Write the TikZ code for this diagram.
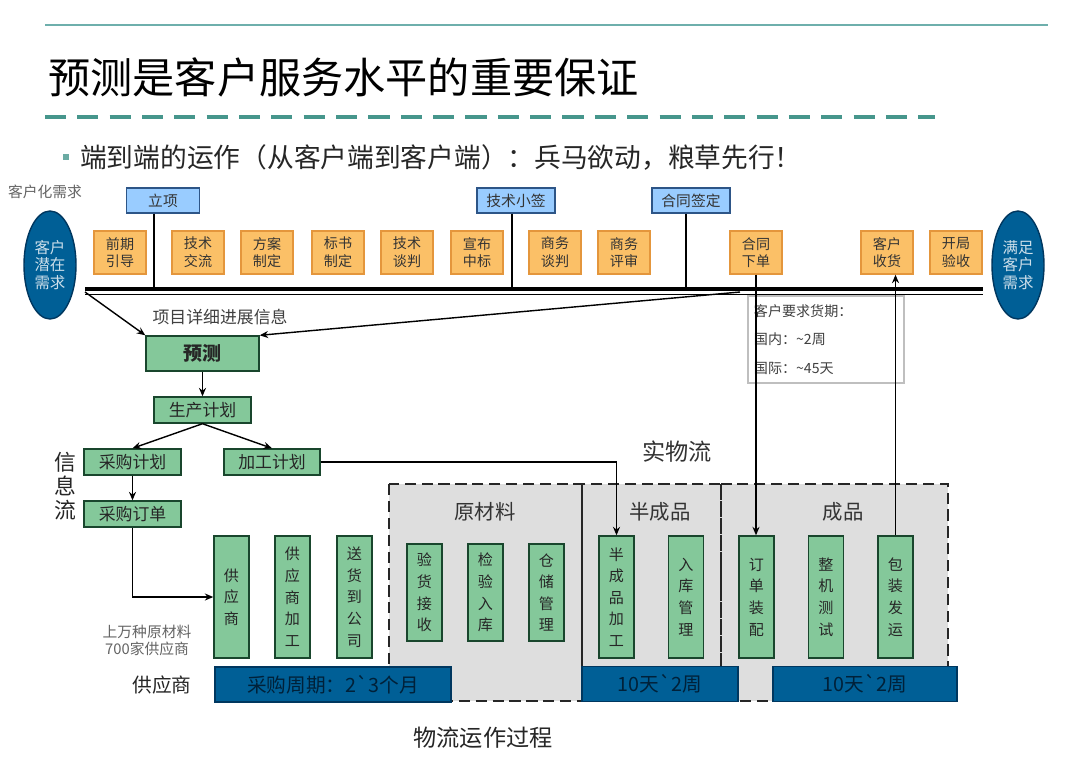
\documentclass[tikz,border=0pt]{standalone}
\usepackage{fontspec}
\setmainfont{Noto Sans CJK SC}
\usetikzlibrary{shapes.geometric,arrows.meta,calc}
\definecolor{tealline}{RGB}{110,175,172}
\definecolor{tealdash}{RGB}{70,150,140}
\definecolor{planblue}{RGB}{153,204,255}
\definecolor{planedge}{RGB}{45,85,135}
\definecolor{stagefill}{RGB}{251,192,103}
\definecolor{stageedge}{RGB}{228,150,60}
\definecolor{deepblue}{RGB}{0,95,150}
\definecolor{deepedge}{RGB}{0,55,95}
\definecolor{boxgreen}{RGB}{132,200,154}
\definecolor{greenedge}{RGB}{25,70,45}
\definecolor{zone}{RGB}{222,222,222}
\definecolor{txtgray}{RGB}{100,100,100}

\begin{document}
\begin{tikzpicture}[x=0.025cm, y=-0.025cm, >={Stealth[length=6pt,width=5pt]},
  plan/.style={draw=planedge, line width=1pt, fill=planblue, minimum width=1.95cm, minimum height=0.625cm, inner sep=1pt, font=\fontsize{10.5}{12}\selectfont, text=black!80},
  stage/.style={draw=stageedge, line width=1pt, fill=stagefill, minimum width=1.3cm, minimum height=1.075cm, inner sep=1pt, align=center, font=\fontsize{10}{12.6}\selectfont, text=black!80},
  goal/.style={ellipse, draw=deepedge, line width=1pt, fill=deepblue, minimum width=1.3cm, minimum height=2.7cm, inner sep=0pt, align=center, text=white!80!deepblue, font=\fontsize{11}{12.5}\selectfont},
  info/.style={draw=greenedge, line width=1pt, fill=boxgreen, minimum width=2.425cm, minimum height=0.65cm, inner sep=1pt, font=\fontsize{12}{14}\selectfont, text=black!85},
  proc/.style={draw=greenedge, line width=1pt, fill=boxgreen, minimum width=0.875cm, minimum height=3.05cm, inner sep=0pt, align=center, font=\fontsize{10.7}{15.4}\selectfont, text=black!85},
  bar/.style={draw=deepedge, line width=1pt, fill=deepblue, minimum height=0.875cm, inner sep=0pt, font=\fontsize{14}{16}\selectfont, text=deepedge!60!black},
  zonebox/.style={draw=black!85, line width=2pt, dash pattern=on 8pt off 4pt},
  flow/.style={line width=1pt, ->}
]
  \path[use as bounding box, fill=white] (0,0) rectangle (1080,758);

  % header
  \draw[tealline, line width=1pt] (45,25) -- (1048,25);
  \node[anchor=west, inner sep=0pt, font=\fontsize{30}{32}\selectfont] (title) at (48,77) {预测是客户服务水平的重要保证};
  \draw[tealdash, line width=2.8pt, dash pattern=on 15pt off 8pt] (45,117) -- (935,117);
  \node[fill=tealdash!80!white, minimum size=4pt, inner sep=0pt] (dot) at (66,157) {};
  \node[anchor=west, inner sep=0pt, font=\fontsize{19}{21}\selectfont, text=black!85] (sub) at (80,157) {端到端的运作（从客户端到客户端）：兵马欲动，粮草先行！};
  \node[font=\fontsize{10.5}{12}\selectfont, text=txtgray] (cust) at (45,192) {客户化需求};

  % milestones
  \node[plan, minimum width=1.83cm] (lixiang) at (163,200.5) {立项};
  \node[plan] (jsxq) at (516,200.5) {技术小签};
  \node[plan] (htqd) at (691,200.5) {合同签定};

  % stages
  \node[stage] (qqyd) at (120,252.5) {前期\\引导};
  \node[stage] (jsjl) at (198,252.5) {技术\\交流};
  \node[stage] (fazd) at (267,252.5) {方案\\制定};
  \node[stage] (bszd) at (338,252.5) {标书\\制定};
  \node[stage] (jstp) at (407,252.5) {技术\\谈判};
  \node[stage] (xbzb) at (477,252.5) {宣布\\中标};
  \node[stage] (swtp) at (555,252.5) {商务\\谈判};
  \node[stage] (swps) at (624,252.5) {商务\\评审};
  \node[stage] (htxd) at (756,252.5) {合同\\下单};
  \node[stage] (khsh) at (887,252.5) {客户\\收货};
  \node[stage] (kjys) at (956,252.5) {开局\\验收};

  \node[goal] (need) at (50,265) {客户\\潜在\\需求};
  \node[goal] (meet) at (1018,265) {满足\\客户\\需求};

  % timeline
  \coordinate (tlL) at (85,289);
  \coordinate (tlR) at (983,289);
  \draw[line width=2.6pt] (tlL) -- (tlR);
  \draw[line width=1pt] (85,294.5) -- (983,294.5);
  \draw[line width=1pt] ($(lixiang.south)+(-9,0)$) coordinate (a) -- (a |- tlL);
  \draw[line width=1pt] ($(jsxq.south)+(-4,0)$) coordinate (b) -- (b |- tlL);
  \draw[line width=1pt] ($(htqd.south)+(-5,0)$) coordinate (c) -- (c |- tlL);

  % information flow
  \node[font=\fontsize{12}{14}\selectfont, text=black!75] (prog) at (220,317) {项目详细进展信息};
  \node[info, minimum width=2.825cm, minimum height=0.875cm, font=\bfseries\fontsize{13.5}{15}\selectfont] (fc) at (202.5,353.5) {预测};
  \node[info] (pp) at (202.5,410) {生产计划};
  \node[info] (pup) at (132.5,462) {采购计划};
  \node[info, minimum width=2.4cm] (mfp) at (272,462) {加工计划};
  \node[info] (po) at (132.5,514) {采购订单};
  \node[align=center, font=\fontsize{15.5}{17}\selectfont, text=black!85] (ifl) at (65,486) {信\\息\\流};

  \coordinate (tlM) at (740,292);
  \draw[flow] (85,292) -- (fc.north west);
  \draw[flow] (tlM) -- (fc.north east);
  \draw[flow] (fc) -- (pp);
  \draw[flow] (pp.south) -- (pup.north);
  \draw[flow] (pp.south) -- (mfp.north);
  \draw[flow] (pup) -- (po);

  % lead time note
  \node[draw=black!25, line width=1pt, minimum width=3.9cm, minimum height=2.175cm, text width=3.6cm, align=left, inner sep=4pt, font=\fontsize{10}{20}\selectfont, text=black!75] (lead) at (826,339.5) {客户要求货期：\\国内：\textasciitilde 2周\\国际：\textasciitilde 45天};

  % physical flow zones
  \fill[zone] (389,484) rectangle (948,701);
  \draw[zonebox] (389,484) rectangle (582,701);
  \draw[zonebox] (582,484) rectangle (721,701);
  \draw[zonebox] (721,484) rectangle (948,701);
  \node[font=\fontsize{16.5}{18}\selectfont, text=black!80] (swl) at (677,452) {实物流};
  \node[font=\fontsize{14.5}{16}\selectfont, text=black!80] (ycl) at (485,512) {原材料};
  \node[font=\fontsize{14.5}{16}\selectfont, text=black!80] (bcp) at (660,512) {半成品};
  \node[font=\fontsize{14.5}{16}\selectfont, text=black!80] (cp) at (843,512) {成品};

  % process steps
  \node[proc] (sup) at (231.5,597) {供\\应\\商};
  \node[proc] (supm) at (292.5,597) {供\\应\\商\\加\\工};
  \node[proc] (dlv) at (354.5,597) {送\\货\\到\\公\\司};
  \node[proc, minimum height=2.425cm] (rcv) at (424.5,592.5) {验\\货\\接\\收};
  \node[proc, minimum height=2.425cm] (chk) at (485.5,592.5) {检\\验\\入\\库};
  \node[proc, minimum height=2.425cm] (wh) at (546.5,592.5) {仓\\储\\管\\理};
  \node[proc] (sfp) at (616.5,597) {半\\成\\品\\加\\工};
  \node[proc] (sfs) at (686,597) {入\\库\\管\\理};
  \node[proc] (asm) at (756.5,597) {订\\单\\装\\配};
  \node[proc] (tst) at (826,597) {整\\机\\测\\试};
  \node[proc] (shp) at (895.5,597) {包\\装\\发\\运};

  % cycle bars
  \node[bar, minimum width=5.9cm] (cyc1) at (333,684.5) {采购周期：2\textasciigrave 3个月};
  \node[bar, minimum width=3.9cm] (cyc2) at (660,684) {10天\textasciigrave 2周};
  \node[bar, minimum width=4.6cm] (cyc3) at (865,684) {10天\textasciigrave 2周};

  \node[font=\fontsize{14}{16}\selectfont, text=black!85] (supl) at (162,685) {供应商};
  \node[align=center, font=\fontsize{10.5}{12}\selectfont, text=txtgray] (scale) at (147,640) {上万种原材料\\700家供应商};
  \node[font=\fontsize{16.5}{18}\selectfont, text=black!85] (wlgc) at (483,738) {物流运作过程};

  % links to the physical flow
  \draw[flow] (po.south) |- (sup.west);
  \draw[flow] (mfp.east) -| (sfp.north);
  \draw[flow] (htxd.south) -- (htxd.south |- asm.north);
  \draw[flow] (shp.north) -- (shp.north |- khsh.south);
\end{tikzpicture}
\end{document}
